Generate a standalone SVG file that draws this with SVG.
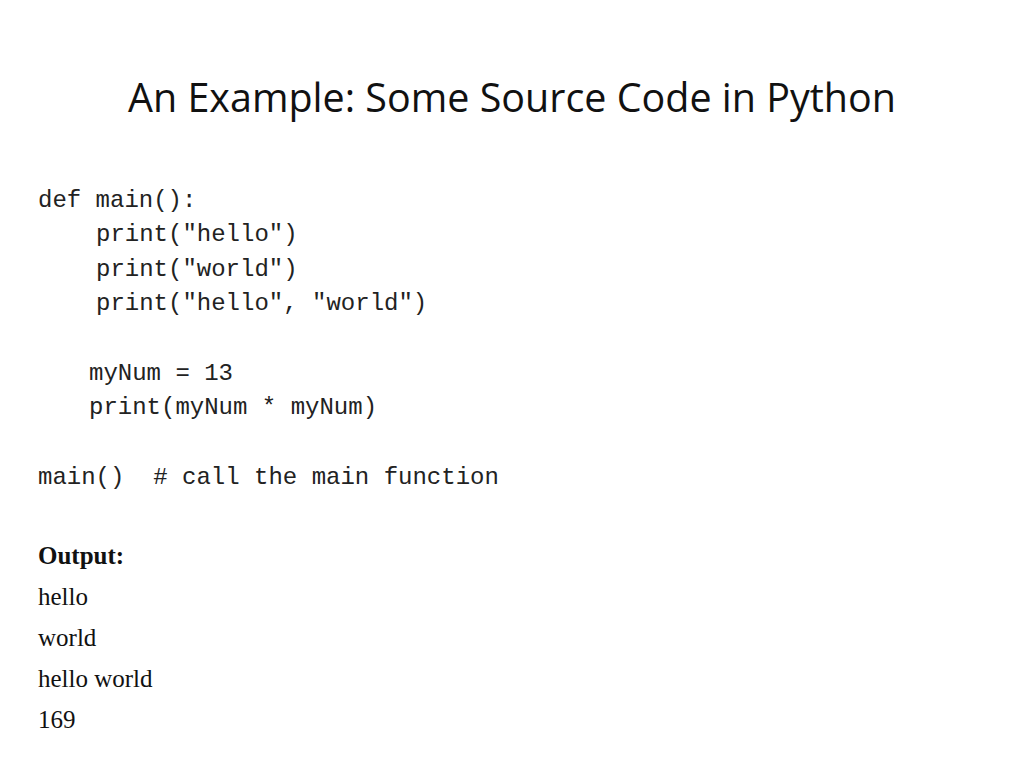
<svg xmlns="http://www.w3.org/2000/svg" width="1024" height="768" viewBox="0 0 1024 768">
<style>
.t{font-family:"Open Sans","Liberation Sans",sans-serif;font-size:40px;fill:#111}
.c{font-family:"Liberation Mono",monospace;font-size:24px;fill:#222;white-space:pre}
.o{font-family:"Liberation Serif",serif;font-size:25px;fill:#111}
</style>
<rect width="1024" height="768" fill="#fff"/>
<text class="t" x="512" y="112" text-anchor="middle" textLength="768" lengthAdjust="spacingAndGlyphs">An Example: Some Source Code in Python</text>
<text class="c" x="38" y="207">def main():</text>
<text class="c" x="96" y="241">print("hello")</text>
<text class="c" x="96" y="276">print("world")</text>
<text class="c" x="96" y="310">print("hello", "world")</text>
<text class="c" x="89" y="380">myNum = 13</text>
<text class="c" x="89" y="414">print(myNum * myNum)</text>
<text class="c" x="38" y="484" xml:space="preserve">main()  # call the main function</text>
<text class="o" x="38" y="564" font-weight="bold">Output:</text>
<text class="o" x="38" y="605">hello</text>
<text class="o" x="38" y="646">world</text>
<text class="o" x="38" y="687">hello world</text>
<text class="o" x="38" y="728">169</text>
</svg>
